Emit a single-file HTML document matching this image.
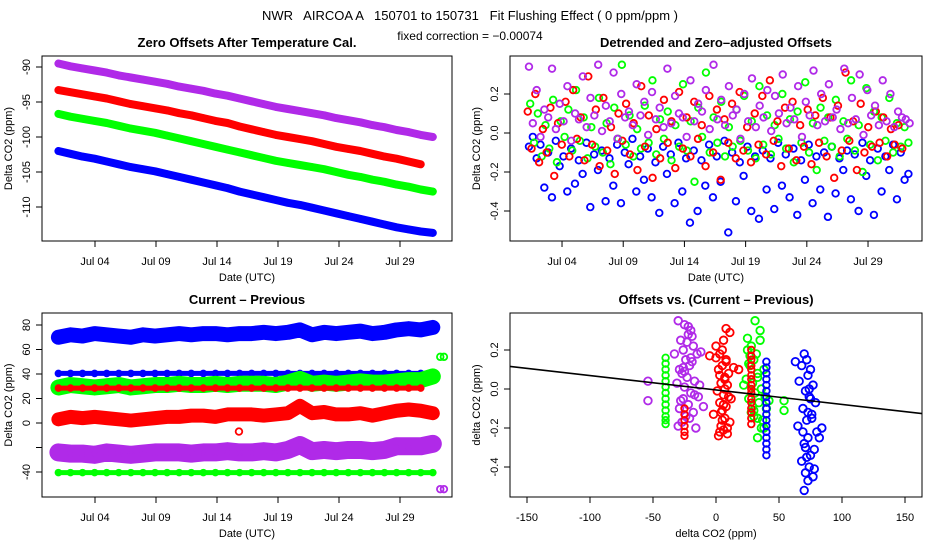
<!DOCTYPE html>
<html><head><meta charset="utf-8"><style>
html,body{margin:0;padding:0;background:#fff;}
svg{display:block;font-family:"Liberation Sans",sans-serif;}
.pre{white-space:pre;}
</style></head><body>
<svg id="c" width="936" height="540" viewBox="0 0 936 540">
<text class="pre" x="470" y="20" text-anchor="middle" font-size="13">NWR   AIRCOA A   150701 to 150731   Fit Flushing Effect ( 0 ppm/ppm )</text>
<text x="470" y="40" text-anchor="middle" font-size="12">fixed correction = −0.00074</text>
</svg>
<script>
// ---- Panel 1 data (daily values, day 0 = Jul 01) ----
const p1Purple=[-89.5,-89.9,-90.2,-90.5,-90.8,-91.2,-91.5,-91.8,-92.1,-92.4,-92.8,-93.1,-93.4,-93.8,-94.1,-94.5,-94.9,-95.3,-95.7,-96.0,-96.3,-96.6,-96.9,-97.3,-97.6,-97.9,-98.3,-98.6,-99.0,-99.3,-99.7,-100.0];
const p1Red=[-93.3,-93.6,-93.9,-94.2,-94.5,-94.9,-95.3,-95.6,-95.9,-96.2,-96.6,-96.9,-97.3,-97.7,-98.0,-98.5,-98.9,-99.3,-99.7,-100.0,-100.3,-100.6,-101.0,-101.4,-101.7,-102.0,-102.4,-102.8,-103.1,-103.5,-103.9];
const p1Green=[-96.7,-97.1,-97.4,-97.7,-98.0,-98.4,-98.8,-99.1,-99.4,-99.8,-100.2,-100.6,-101.0,-101.4,-101.8,-102.2,-102.6,-103.0,-103.4,-103.7,-104.0,-104.3,-104.6,-105.0,-105.4,-105.7,-106.1,-106.4,-106.8,-107.1,-107.5,-107.8];
const p1Blue=[-102.0,-102.4,-102.8,-103.1,-103.5,-103.9,-104.3,-104.6,-104.9,-105.3,-105.7,-106.1,-106.5,-106.9,-107.3,-107.8,-108.2,-108.6,-109.0,-109.4,-109.7,-110.1,-110.5,-110.9,-111.3,-111.7,-112.1,-112.5,-112.9,-113.2,-113.5,-113.7];
const p1YTicks=[-110,-105,-100,-95,-90];
const dateTicks=[3,8,13,18,23,28];
const dateLabels=["Jul 04","Jul 09","Jul 14","Jul 19","Jul 24","Jul 29"];
// ---- Panel 2 data (detrended offsets, evenly spaced in time) ----
const p2Blue=[-0.07,-0.02,-0.13,-0.06,-0.28,-0.10,-0.33,-0.04,-0.17,-0.12,-0.30,-0.08,-0.26,-0.14,-0.21,-0.05,-0.38,-0.11,-0.19,-0.09,-0.35,-0.13,-0.27,-0.06,-0.36,-0.10,-0.16,-0.03,-0.30,-0.12,-0.24,-0.08,-0.33,-0.15,-0.41,-0.07,-0.21,-0.11,-0.36,-0.05,-0.30,-0.13,-0.46,-0.09,-0.40,-0.14,-0.27,-0.06,-0.33,-0.12,-0.25,-0.04,-0.51,-0.10,-0.35,-0.15,-0.22,-0.07,-0.40,-0.12,-0.44,-0.09,-0.29,-0.13,-0.39,-0.05,-0.27,-0.11,-0.33,-0.08,-0.42,-0.14,-0.24,-0.06,-0.36,-0.12,-0.29,-0.10,-0.43,-0.07,-0.31,-0.13,-0.19,-0.09,-0.34,-0.11,-0.40,-0.05,-0.22,-0.14,-0.42,-0.08,-0.30,-0.12,-0.19,-0.06,-0.34,-0.10,-0.24,-0.21];
const p2Red=[0.11,-0.08,0.20,-0.15,0.02,-0.10,0.13,-0.22,0.05,-0.06,0.16,-0.12,0.22,-0.03,0.08,-0.14,0.29,-0.06,0.12,-0.17,0.18,-0.09,0.03,-0.21,0.10,-0.04,0.15,-0.11,0.05,-0.19,0.24,-0.07,0.09,-0.23,0.02,-0.13,0.17,-0.05,0.06,-0.18,0.21,-0.08,0.08,-0.12,0.16,-0.03,0.04,-0.17,0.19,-0.10,0.12,-0.24,0.07,-0.05,0.15,-0.13,0.21,-0.09,0.03,-0.15,0.10,-0.06,0.19,-0.11,0.27,-0.04,0.06,-0.17,0.13,-0.08,0.16,-0.14,0.04,-0.07,0.12,-0.16,0.09,-0.05,0.18,-0.12,0.08,-0.23,0.14,-0.09,0.31,-0.04,0.06,-0.19,0.15,-0.10,0.03,-0.07,0.11,-0.05,0.08,-0.12,0.02,-0.06,0.04,-0.08];
const p2Green=[0.15,-0.05,0.10,-0.12,0.04,-0.08,0.17,-0.15,0.06,-0.02,0.12,-0.09,0.22,-0.04,0.08,-0.13,0.03,-0.07,0.18,-0.10,0.05,-0.16,0.13,-0.03,0.35,-0.06,0.09,-0.12,0.02,-0.08,0.14,-0.05,0.27,-0.11,0.07,-0.03,0.11,-0.14,0.04,-0.07,0.25,-0.09,0.06,-0.25,0.13,-0.02,0.31,-0.10,0.08,-0.05,0.16,-0.12,0.03,-0.07,0.12,-0.04,0.19,-0.09,0.06,-0.13,0.24,-0.06,0.09,-0.11,0.04,-0.03,0.20,-0.08,0.07,-0.15,0.11,-0.05,0.26,-0.10,0.05,-0.19,0.13,-0.04,0.08,-0.07,0.17,-0.12,0.06,-0.03,0.27,-0.09,0.04,-0.20,0.23,-0.06,0.11,-0.14,0.08,-0.04,0.18,-0.10,0.05,-0.07,0.03,-0.05];
const p2Purple=[0.34,0.05,0.22,-0.02,0.12,0.08,0.33,0.02,0.15,0.06,0.24,-0.04,0.10,0.07,0.29,0.03,0.18,0.09,0.35,0.01,0.14,0.06,0.31,-0.03,0.20,0.08,0.11,0.04,0.25,0.09,0.16,-0.01,0.21,0.07,0.13,0.03,0.33,0.05,0.19,0.10,0.08,-0.02,0.27,0.06,0.15,0.11,0.22,0.02,0.35,0.07,0.17,0.04,0.24,0.09,0.12,-0.03,0.20,0.06,0.28,0.03,0.14,0.08,0.22,0.01,0.19,0.10,0.30,0.05,0.13,0.07,0.24,-0.02,0.16,0.09,0.32,0.04,0.20,0.06,0.25,0.08,0.12,0.02,0.33,0.05,0.18,0.07,0.30,-0.01,0.22,0.09,0.14,0.04,0.27,0.06,0.20,0.03,0.11,0.08,0.07,0.05];
const p2YTicks=[-0.4,-0.2,0.0,0.2];
// ---- Panel 3 data (daily values) ----
const p3Blue=[70,72,71,73,72,71,70,72,71,72,73,72,73,73,72,73,73,74,73,74,76,72,74,73,74,75,73,74,76,77,76,78];
const p3BlueRef=[40.5,40.5,40.5,40.5,40.5,40.5,40.5,40.5,40.5,40.5,40.5,40.5,40.5,40.5,40.5,40.5,40.5,40.5,40.5,40.5,40.5,40.5,40.5,40.5,40.5,40.5,40.5,40.5,40.5,40.5,40.5,40.5];
const p3Green=[29,31,30,29,30,31,29,30,31,31,32,31,31,32,31,32,32,32,31,33,36,32,33,32,33,34,33,33,34,35,35,38];
const p3RedRef=[28.5,28.5,28.5,28.5,28.5,28.5,28.5,28.5,28.5,28.5,28.5,28.5,28.5,28.5,28.5,28.5,28.5,28.5,28.5,28.5,28.5,28.5,28.5,28.5,28.5,28.5,28.5,28.5,28.5,28.5,28.5];
const p3Red=[3,5,4,5,4,3,2,3,4,5,5,6,6,5,7,7,7,6,7,8,14,8,9,7,7,8,6,8,10,11,10,8];
const p3Purple=[-24,-25,-25,-26,-24,-25,-26,-25,-24,-24,-24,-25,-24,-24,-23,-24,-24,-23,-24,-22,-18,-23,-22,-23,-22,-22,-23,-22,-19,-19,-19,-17];
const p3GreenRef=[-40.5,-40.5,-40.5,-40.5,-40.5,-40.5,-40.5,-40.5,-40.5,-40.5,-40.5,-40.5,-40.5,-40.5,-40.5,-40.5,-40.5,-40.5,-40.5,-40.5,-40.5,-40.5,-40.5,-40.5,-40.5,-40.5,-40.5,-40.5,-40.5,-40.5,-40.5,-40.5];
const p3YTicks=[-40,-20,0,20,40,60,80];
const p3YLabels=["-40","","0","20","40","60","80"];
// ---- Panel 4 data ----
const p4PurpleX=[-30,-25,-20,-28,-22,-18,-33,-26,-15,-24,-21,-29,-19,-12,-27,-23,-17,-31,-25,-20,-14,-26,-22,-29,-18,-24,-10,-27,-21,-16,-30,-23,-19,-25,-13,-28,-22,-20,-26,-17,-54,-54];
const p4PurpleY=[0.35,0.33,0.30,0.25,0.28,0.22,0.18,0.20,0.18,0.15,0.12,0.10,0.14,0.19,0.08,0.06,0.04,0.03,0.01,-0.02,-0.04,-0.05,-0.08,-0.10,-0.12,-0.14,-0.09,-0.17,-0.15,-0.20,-0.19,0.24,0.27,0.09,0.02,-0.06,0.32,0.16,0.11,-0.03,0.04,-0.06];
const p4RedX=[0,3,6,8,5,2,10,7,4,9,1,6,12,3,8,5,-2,7,11,4,6,9,2,5,8,14,3,7,10,0,6,4,9,-5,11,5,7,18,3,8];
const p4RedY=[0.22,0.18,0.25,0.15,0.12,0.10,0.08,0.05,0.03,0.02,-0.01,-0.03,-0.05,-0.07,-0.09,-0.11,-0.13,-0.15,-0.17,-0.19,-0.21,-0.23,-0.24,0.20,0.14,0.11,0.07,0.00,-0.04,0.16,-0.08,-0.12,-0.20,0.17,0.29,-0.16,0.06,0.10,-0.22,0.31];
const p4RedRefY=[0.2,0.17,0.15,0.12,0.1,0.07,0.05,0.02,0.0,-0.02,-0.05,-0.07,-0.1,-0.12,-0.15,-0.18];
const p4RedStripeY=[-0.1,-0.13,-0.16,-0.19,-0.22,-0.24];
const p4GreenRefY=[0.16,0.13,0.1,0.07,0.04,0.01,-0.02,-0.05,-0.08,-0.11,-0.14,-0.16,-0.18];
const p4GreenX=[25,28,32,35,30,27,38,33,24,29,36,31,26,34,40,28,30,37,25,33,42,29,31,27,35,22,39,30,26,33,54,54,36,33,38];
const p4GreenY=[0.26,0.22,0.18,0.25,0.15,0.12,0.10,0.08,0.05,0.03,0.0,-0.02,-0.05,-0.07,-0.10,-0.12,-0.14,-0.16,0.20,0.06,-0.06,-0.09,0.35,0.17,0.30,0.02,-0.04,-0.11,0.13,-0.15,-0.06,-0.11,-0.20,-0.25,-0.20];
const p4BlueRefY=[0.14,0.11,0.08,0.05,0.02,-0.01,-0.04,-0.07,-0.10,-0.13,-0.16,-0.19,-0.22,-0.25,-0.28,-0.31,-0.34];
const p4BlueX=[70,72,68,75,73,66,77,71,74,79,69,76,72,65,80,73,70,78,75,68,82,74,71,77,73,63,84,75,70,72,76,74,71,73,69,78];
const p4BlueY=[0.18,0.15,0.12,0.10,0.07,0.04,0.02,-0.01,-0.04,-0.07,-0.10,-0.13,-0.16,-0.19,-0.22,-0.25,-0.28,-0.31,-0.34,-0.37,-0.25,-0.40,-0.43,-0.45,-0.47,0.14,-0.20,-0.05,-0.52,-0.35,-0.15,0.0,-0.30,-0.12,-0.22,-0.41];
const p4XTicks=[-150,-100,-50,0,50,100,150];
const fitSlope=-0.00074, fitIntercept=-0.005;

const NS="http://www.w3.org/2000/svg";
const svg=document.getElementById('c');
function el(tag,attrs,parent){const e=document.createElementNS(NS,tag);for(const k in attrs)e.setAttribute(k,attrs[k]);(parent||svg).appendChild(e);return e;}
const BLUE="#0000ff",RED="#ff0000",GREEN="#00ff00",PURPLE="#b02ae8";

function frame(box,title,ytitle,xtitle,nameP){
  const g=el('g',{});
  
  
  const r=el('rect',{x:box.x,y:box.y,width:box.w,height:box.h,fill:'none',stroke:'#000','stroke-width':1},g);
  
  
  const t=el('text',{x:box.x+box.w/2,y:box.y-9,'text-anchor':'middle','font-size':13,'font-weight':'bold'},g);
  t.textContent=title;
  
  
  const yt=el('text',{transform:`translate(${box.x-30},${box.y+box.h/2}) rotate(-90)`,'text-anchor':'middle','font-size':11},g);
  yt.textContent=ytitle;
  
  
  const xt=el('text',{x:box.x+box.w/2,y:box.y+box.h+40,'text-anchor':'middle','font-size':11},g);
  xt.textContent=xtitle;
  
  
  return g;
}
function yAxis(g,box,sy,ticks,labels,nameP){
  ticks.forEach((v,i)=>{
    const y=sy(v);
    const l=el('line',{x1:box.x,x2:box.x-6,y1:y,y2:y,stroke:'#000'},g);
    
    
    if(labels[i]!==""){
      const t=el('text',{transform:`translate(${box.x-12},${y}) rotate(-90)`,'text-anchor':'middle','font-size':11},g);
      t.textContent=labels[i];
      
      
    }
  });
}
function xAxis(g,box,sx,ticks,labels,nameP){
  ticks.forEach((v,i)=>{
    const x=sx(v);
    const l=el('line',{x1:x,x2:x,y1:box.y+box.h,y2:box.y+box.h+6,stroke:'#000'},g);
    
    
    const t=el('text',{x:x,y:box.y+box.h+24,'text-anchor':'middle','font-size':11},g);
    t.textContent=labels[i];
    
    
  });
}
function clip(box,id){const cp=el('clipPath',{id:id});el('rect',{x:box.x,y:box.y,width:box.w,height:box.h},cp);}
function band(g,vals,sx,sy,color,w,name){
  const pts=vals.map((v,i)=>sx(i)+','+sy(v)).join(' ');
  const p=el('polyline',{points:pts,fill:'none',stroke:color,'stroke-width':w,'stroke-linejoin':'round','stroke-linecap':'round'},g);
  
  
  vals.forEach((v,i)=>{
    const c=el('circle',{cx:sx(i),cy:sy(v),r:3,fill:'none',stroke:color,'stroke-width':1.6},g);
    
    
  });
}
function scatter(g,xs,ys,sx,sy,color,name,r){
  ys.forEach((v,i)=>{
    const c=el('circle',{cx:sx(xs[i]),cy:sy(v),r:r||3.3,fill:'none',stroke:color,'stroke-width':1.8},g);
    
    
  });
}
function times(n,start,end){const a=[];for(let i=0;i<n;i++)a.push(start+i*(end-start)/(n-1));return a;}
function fill(n,v){return new Array(n).fill(v);}

// Panel 1
{const box={x:42,y:56,w:410,h:185};
 const sx=d=>58.4+d*12.2, sy=v=>67+(-90-v)*7;
 const g=frame(box,"Zero Offsets After Temperature Cal.","Delta CO2 (ppm)","Date (UTC)","offsets");
 yAxis(g,box,sy,p1YTicks,p1YTicks.map(String),"offsets");
 xAxis(g,box,sx,dateTicks,dateLabels,"offsets");
 const tx=d=>sx(d*0.99);
 band(g,p1Purple,tx,sy,PURPLE,8,"purple-offset-series");
 band(g,p1Red,tx,sy,RED,8,"red-offset-series");
 band(g,p1Green,tx,sy,GREEN,8,"green-offset-series");
 band(g,p1Blue,tx,sy,BLUE,8,"blue-offset-series");}

// Panel 2
{const box={x:510,y:56,w:412,h:185};
 const sx=d=>525.3+d*12.24, sy=v=>133-v*195;
 const g=frame(box,"Detrended and Zero\u2013adjusted Offsets","Delta CO2 (ppm)","Date (UTC)","detrended");
 yAxis(g,box,sy,p2YTicks,p2YTicks.map(v=>v.toFixed(1)),"detrended");
 xAxis(g,box,sx,dateTicks,dateLabels,"detrended");
 clip(box,'cp2');
 const gg=el('g',{'clip-path':'url(#cp2)'},g);
 scatter(gg,times(p2Blue.length,0.3,31.3),p2Blue,sx,sy,BLUE,"blue-detrended-point");
 scatter(gg,times(p2Green.length,0.4,31.3),p2Green,sx,sy,GREEN,"green-detrended-point");
 scatter(gg,times(p2Red.length,0.2,30.8),p2Red,sx,sy,RED,"red-detrended-point");
 scatter(gg,times(p2Purple.length,0.3,31.4),p2Purple,sx,sy,PURPLE,"purple-detrended-point");}

// Panel 3
{const box={x:42,y:313,w:410,h:184};
 const sx=d=>58.4+d*12.2, sy=v=>423-v*1.225;
 const g=frame(box,"Current \u2013 Previous","Delta CO2 (ppm)","Date (UTC)","current-previous");
 yAxis(g,box,sy,p3YTicks,p3YLabels,"current-previous");
 xAxis(g,box,sx,dateTicks,dateLabels,"current-previous");
 const tx=d=>sx(d*0.99);
 band(g,p3BlueRef,tx,sy,BLUE,5,"blue-reference-series");
 band(g,p3Green,tx,sy,GREEN,16,"green-difference-series");
 band(g,p3RedRef,tx,sy,RED,5,"red-reference-series");
 band(g,p3Blue,tx,sy,BLUE,15,"blue-difference-series");
 band(g,p3Red,tx,sy,RED,14,"red-difference-series");
 band(g,p3Purple,tx,sy,PURPLE,18,"purple-difference-series");
 band(g,p3GreenRef,tx,sy,GREEN,5,"green-reference-series");
 scatter(g,[31.3,31.6],[54,54],sx,sy,GREEN,"green-outlier");
 scatter(g,[31.3,31.6],[-54,-54],sx,sy,PURPLE,"purple-outlier");
 scatter(g,[14.8],[-7],sx,sy,RED,"red-outlier");}

// Panel 4
{const box={x:510,y:313,w:412,h:184};
 const sx=v=>716+v*1.26, sy=v=>389-v*195;
 const g=frame(box,"Offsets vs. (Current \u2013 Previous)","delta CO2 (ppm)","delta CO2 (ppm)","offsets-vs-diff");
 yAxis(g,box,sy,p2YTicks,p2YTicks.map(v=>v.toFixed(1)),"offsets-vs-diff");
 xAxis(g,box,sx,p4XTicks,p4XTicks.map(String),"offsets-vs-diff");
 clip(box,'cp4');
 const gg=el('g',{'clip-path':'url(#cp4)'},g);
 scatter(gg,fill(p4GreenRefY.length,-40),p4GreenRefY,sx,sy,GREEN,"green-reference-point");
 scatter(gg,p4PurpleX,p4PurpleY,sx,sy,PURPLE,"purple-scatter-point",3.8);
 scatter(gg,fill(p4RedStripeY.length,-25),p4RedStripeY,sx,sy,RED,"red-stripe-point");
 scatter(gg,p4RedX,p4RedY,sx,sy,RED,"red-scatter-point",3.8);
 scatter(gg,p4GreenX,p4GreenY,sx,sy,GREEN,"green-scatter-point",3.8);
 scatter(gg,fill(p4RedRefY.length,28),p4RedRefY,sx,sy,RED,"red-reference-point");
 scatter(gg,fill(p4BlueRefY.length,40),p4BlueRefY,sx,sy,BLUE,"blue-reference-point");
 scatter(gg,p4BlueX,p4BlueY,sx,sy,BLUE,"blue-scatter-point",3.8);
 const x0=-165,x1=165;
 const ln=el('line',{x1:sx(x0),y1:sy(fitIntercept+fitSlope*x0),x2:sx(x1),y2:sy(fitIntercept+fitSlope*x1),stroke:'#000','stroke-width':1.6},gg);
 
 }
</script>
</body></html>
